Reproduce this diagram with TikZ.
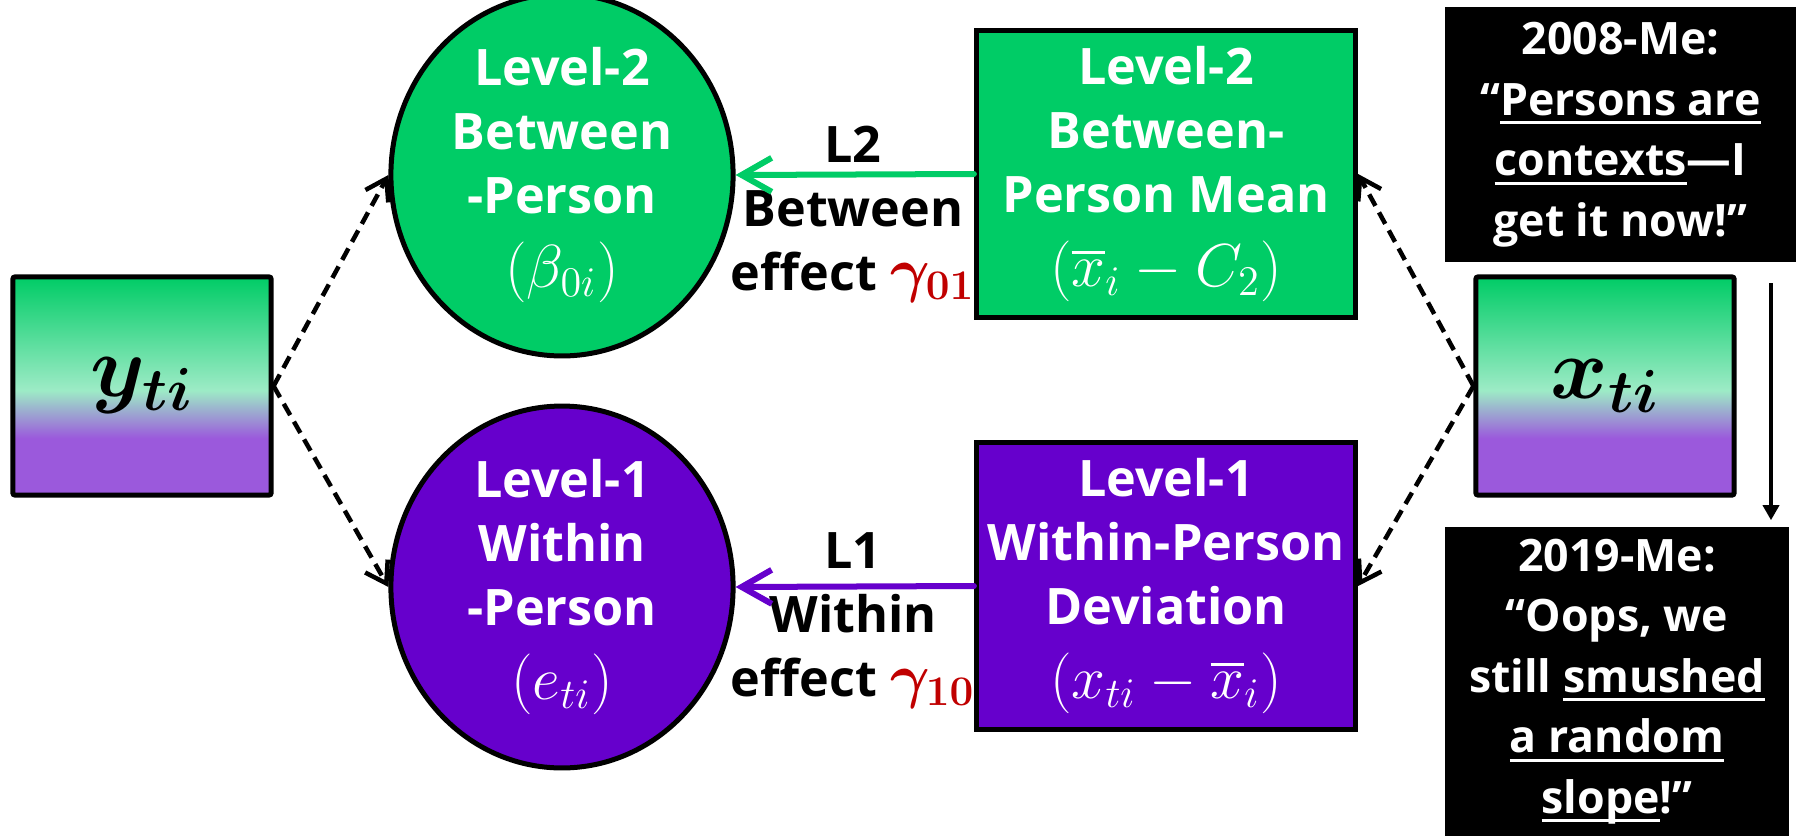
\documentclass[tikz,border=0pt]{standalone}
\usepackage{amsmath,amssymb}
\usepackage[no-math]{fontspec}
\setmainfont{Open Sans}
\usepackage{bm}
\usepackage{xcolor}
\usepackage{tikz}
\usetikzlibrary{arrows.meta, positioning, shapes.geometric}

\definecolor{lvtwo}{RGB}{0,204,102}
\definecolor{lvone}{RGB}{102,0,204}
\definecolor{mintmid}{RGB}{157,235,198}
\definecolor{lilac}{RGB}{155,89,220}
\definecolor{gamred}{RGB}{192,0,0}

\pgfdeclareverticalshading{varshade}{100bp}{color(0bp)=(lilac); color(38bp)=(lilac); color(49bp)=(mintmid); color(75bp)=(lvtwo); color(100bp)=(lvtwo)}

\newcommand{\mth}[1]{{\fontsize{16.5}{18}\selectfont$#1$}}
\newcommand{\undl}[1]{{\setbox0\hbox{#1}\rlap{\rule[-2.6pt]{\wd0}{0.9pt}}\box0}}

\begin{document}
\begin{tikzpicture}[
    x=0.01cm, y=-0.01cm,
    every node/.style={font=\bfseries\fontsize{14.3}{18.2}\selectfont, align=center, inner sep=0pt},
    varbox/.style={rectangle, draw, line width=0.05cm, rounded corners=0.02cm, minimum width=2.58cm, minimum height=2.18cm, shading=varshade, font=\fontsize{27}{30}\selectfont},
    blob/.style={ellipse, draw, line width=0.05cm, minimum width=3.42cm, minimum height=2.86cm, text=white},
    rbox/.style={rectangle, draw, line width=0.05cm, minimum width=3.79cm, minimum height=2.87cm, text=white},
    note/.style={rectangle, fill=black, text=white, font=\bfseries\fontsize{12.7}{17.2}\selectfont},
    link/.style={draw, line width=0.045cm, dash pattern=on 0.13cm off 0.075cm, -{Straight Barb[length=0.2cm, width=0.26cm]}},
    effect/.style={line width=0.06cm, line cap=round, -{Straight Barb[length=0.3cm, width=0.34cm]}},
    tline/.style={draw, line width=0.035cm, -{Triangle[length=0.15cm, width=0.16cm]}}
]
\path[use as bounding box] (0,0) rectangle (1796,836);

\node[varbox] (y) at (142,386) {$\bm{y}_{\bm{ti}}$};
\node[varbox] (x) at (1605,386) {$\bm{x}_{\bm{ti}}$};

\node[blob, fill=lvtwo] (btw) at (562,175) {Level-2\\Between\\-Person\\[3pt]\mth{(\beta_{0i})}};
\node[blob, fill=lvone] (wth) at (562,587) {Level-1\\Within\\-Person\\[3pt]\mth{(e_{ti})}};

\node[rbox, fill=lvtwo] (gmean) at (1166,174) {Level-2\\Between-\\Person Mean\\[3pt]\mth{(\overline{x}_i - C_2)}};
\node[rbox, fill=lvone] (wdev) at (1166,586) {Level-1\\Within-Person\\Deviation\\[3pt]\mth{(x_{ti} - \overline{x}_i)}};

\node[note, minimum width=3.51cm, minimum height=2.55cm] (then) at (1620.5,134.5) {2008-Me:\\“\undl{Persons are}\\\undl{contexts}—I\\get it now!”};
\node[note, minimum width=3.44cm, minimum height=3.09cm] (now) at (1617,681.5) {2019-Me:\\“Oops, we\\still \undl{smushed}\\\undl{a random}\\\undl{slope}!”};

\node (l2lab) at (853,214) {L2\\Between\\effect {\color{gamred}\mth{\bm{\gamma}_{\mathbf{01}}}}};
\node (l1lab) at (853,620) {L1\\Within\\effect {\color{gamred}\mth{\bm{\gamma}_{\mathbf{10}}}}};

\coordinate (arrtop) at (1771,283);

\draw[effect, draw=lvtwo] (gmean.west) -- (btw.east);
\draw[effect, draw=lvone] (wdev.west) -- (wth.east);

\draw[link] (y.east) -- (btw.west);
\draw[link] (y.east) -- (wth.west);
\draw[link] (x.west) -- (gmean.east);
\draw[link] (x.west) -- (wdev.east);

\draw[tline, shorten >=0.06cm] (arrtop) -- (arrtop |- now.north);
\end{tikzpicture}
\end{document}
